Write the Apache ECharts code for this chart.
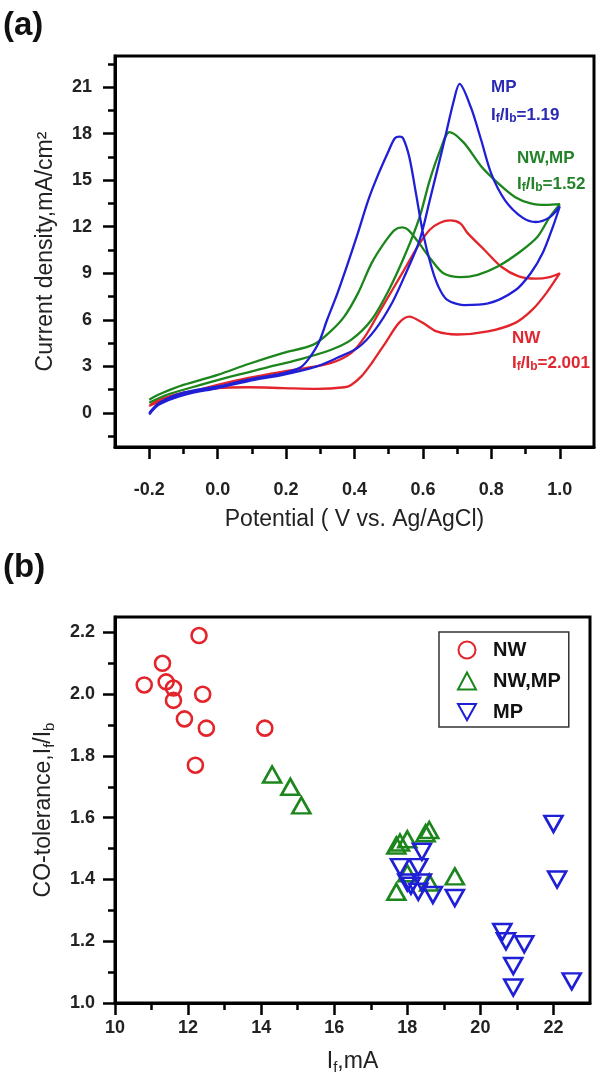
<!DOCTYPE html>
<html><head><meta charset="utf-8">
<script src="https://cdn.jsdelivr.net/npm/echarts@6/dist/echarts.min.js"></script>
<style>html,body{margin:0;padding:0;background:#fff}#c{width:600px;height:1080px}</style>
</head><body><div id="c"></div><script>
// ---------- Panel (a): cyclic voltammograms ----------
const nwX = [-0.2,-0.17,-0.1,0.0,0.09,0.19,0.26,0.33,0.39,0.43,0.47,0.51,0.55,0.59,0.62,0.65,0.68,0.71,0.73,0.78,0.83,0.88,0.93,0.97,1.0,
             0.96,0.92,0.87,0.79,0.70,0.64,0.60,0.56,0.53,0.49,0.45,0.42,0.39,0.37,0.29,0.19,0.09,0.0,-0.1,-0.17,-0.2];
const nwY = [0.45,0.7,1.2,1.8,2.25,2.65,2.9,3.2,3.85,4.9,6.4,7.9,9.4,10.9,11.8,12.25,12.4,12.2,11.6,10.5,9.4,8.8,8.65,8.75,9.0,
             7.7,6.65,5.8,5.25,5.05,5.25,5.8,6.2,5.8,4.5,3.2,2.35,1.8,1.65,1.55,1.6,1.65,1.6,1.3,0.85,0.45];
const mpX = [-0.2,-0.17,-0.1,0.0,0.09,0.19,0.29,0.35,0.41,0.46,0.51,0.55,0.59,0.62,0.66,0.69,0.707,0.74,0.77,0.80,0.84,0.89,0.93,0.97,1.0,
             0.98,0.95,0.915,0.87,0.79,0.72,0.67,0.645,0.625,0.60,0.58,0.56,0.542,0.532,0.518,0.50,0.47,0.44,0.41,0.38,0.35,0.32,0.295,0.265,0.24,0.19,0.09,0.0,-0.1,-0.17,-0.2];
const mpY = [-0.1,0.55,1.15,1.6,2.05,2.45,3.0,3.55,4.2,5.35,7.1,9.0,11.1,13.7,17.3,20.1,21.2,19.7,17.6,15.4,13.7,12.6,12.3,12.6,13.3,
             12.0,10.3,9.0,7.9,7.05,6.95,7.3,8.15,9.4,11.6,14.1,16.5,17.7,17.8,17.7,16.9,15.4,13.7,11.6,9.6,7.7,6.0,4.5,3.45,2.9,2.55,2.15,1.7,1.3,0.65,0.0];
const nwmpX = [-0.2,-0.15,-0.05,0.04,0.14,0.24,0.33,0.39,0.45,0.50,0.55,0.59,0.62,0.65,0.678,0.72,0.77,0.82,0.87,0.915,0.96,1.0,
               0.97,0.935,0.885,0.82,0.76,0.71,0.66,0.625,0.585,0.557,0.539,0.518,0.49,0.45,0.41,0.37,0.33,0.28,0.19,0.09,0.0,-0.1,-0.17,-0.2];
const nwmpY = [0.65,1.15,1.8,2.35,2.9,3.45,4.05,4.7,6.0,7.9,10.3,12.6,15.0,16.9,18.1,17.4,15.9,14.8,13.9,13.5,13.4,13.45,
               12.6,11.35,10.4,9.45,8.9,8.75,9.0,9.85,11.05,11.8,11.95,11.8,11.05,9.65,7.7,6.2,5.25,4.4,3.85,3.15,2.45,1.8,1.2,0.85];
const potMajor = [-0.2,0.0,0.2,0.4,0.6,0.8,1.0];
const potMinor = [-0.1,0.1,0.3,0.5,0.7,0.9];
const curMajor = [0,3,6,9,12,15,18,21];
const curMinor = [-1.5,1.5,4.5,7.5,10.5,13.5,16.5,19.5,22.5];

// ---------- Panel (b): CO tolerance ----------
const sNwX = [10.8,11.3,11.4,11.6,11.6,11.9,12.3,12.4,12.5,12.2,14.1];
const sNwY = [2.03,2.10,2.04,2.02,1.98,1.92,2.19,2.00,1.89,1.77,1.89];
const sNwmpX = [14.3,14.8,15.1,17.7,17.8,18.0,18.5,18.6,18.0,17.7,18.6,19.3];
const sNwmpY = [1.74,1.70,1.64,1.51,1.52,1.53,1.55,1.56,1.42,1.36,1.39,1.41];
const sMpX = [17.8,18.4,18.3,18.0,18.1,18.4,18.3,18.7,19.3,20.6,20.7,21.2,20.9,20.9,22.0,22.1,22.5];
const sMpY = [1.44,1.49,1.44,1.39,1.38,1.39,1.36,1.35,1.34,1.23,1.20,1.19,1.12,1.05,1.58,1.40,1.07];
const ifMajor = [10,12,14,16,18,20,22];
const ifMinor = [11,13,15,17,19,21];
const tolMajor = [1.0,1.2,1.4,1.6,1.8,2.0,2.2];
const tolMinor = [1.1,1.3,1.5,1.7,1.9,2.1];

const FONT = '"Liberation Sans", Arial, sans-serif';
const zip = (xs, ys) => xs.map((x, i) => [x, ys[i]]);
const RED = '#e3242b', GREEN = '#1c861c', BLUE = '#1f1fd6';

function mainAxis(grid, pos, min, max, major, fmt, margin, name, nameGap) {
  return {
    type: 'value', gridIndex: grid, position: pos, min: min, max: max,
    axisLine: { show: true, onZero: false, lineStyle: { color: '#000', width: 3 } },
    axisTick: { show: true, customValues: major, length: 12, lineStyle: { color: '#000', width: 2.5 } },
    axisLabel: { customValues: major, formatter: fmt, fontSize: 18, fontWeight: 'bold', color: '#222', fontFamily: FONT, margin: margin },
    splitLine: { show: false },
    name: name, nameLocation: 'middle', nameGap: nameGap,
    nameTextStyle: {
      fontSize: 23, color: '#222', fontFamily: FONT,
      rich: {
        m: { fontSize: 23, color: '#222', fontFamily: FONT, verticalAlign: 'middle', lineHeight: 26 },
        s: { fontSize: 15, color: '#222', fontFamily: FONT, verticalAlign: 'bottom', lineHeight: 15, padding: [17, 0, 0, 0] }
      }
    }
  };
}
function minorAxis(grid, pos, min, max, minor) {
  return {
    type: 'value', gridIndex: grid, position: pos, offset: 0, min: min, max: max,
    axisLine: { show: false, onZero: false },
    axisTick: { show: true, customValues: minor, length: 7, lineStyle: { color: '#000', width: 2.5 } },
    axisLabel: { show: false },
    splitLine: { show: false }
  };
}

const chart = echarts.init(document.getElementById('c'), null, { renderer: 'canvas' });
const sym = { color: 'rgba(0,0,0,0)', borderWidth: 2.6, opacity: 1 };

const annRich = (c) => ({
  m: { fontSize: 17, fontWeight: 'bold', fill: c, fontFamily: FONT, verticalAlign: 'middle', lineHeight: 19 },
  s: { fontSize: 12, fontWeight: 'bold', fill: c, fontFamily: FONT, verticalAlign: 'bottom', lineHeight: 12, padding: [13, 0, 0, 0] }
});
function ann(x, y, text, c, rich) {
  return { type: 'text', x: x, y: y, silent: true,
    style: rich ? { text: text, rich: annRich(c), fill: c, verticalAlign: 'middle' }
                : { text: text, fill: c, font: 'bold 17px ' + FONT, verticalAlign: 'middle' } };
}

chart.setOption({
  animation: false,
  backgroundColor: '#fff',
  grid: [
    { left: 115, top: 56, width: 479, height: 391, show: true, borderColor: '#000', borderWidth: 3, backgroundColor: 'transparent' },
    { left: 115, top: 617, width: 475, height: 386, show: true, borderColor: '#000', borderWidth: 3, backgroundColor: 'transparent' }
  ],
  xAxis: [
    mainAxis(0, 'bottom', -0.3, 1.1, potMajor, v => v.toFixed(1), 34, 'Potential ( V vs. Ag/AgCl)', 61),
    minorAxis(0, 'bottom', -0.3, 1.1, potMinor),
    mainAxis(1, 'bottom', 10, 23, ifMajor, v => String(v), 16, '{m|I}{s|f}{m|,mA}', 46),
    minorAxis(1, 'bottom', 10, 23, ifMinor)
  ],
  yAxis: [
    mainAxis(0, 'left', -2.2, 23, curMajor, v => String(v), 23, 'Current density,mA/cm²', 58),
    minorAxis(0, 'left', -2.2, 23, curMinor),
    mainAxis(1, 'left', 1.0, 2.25, tolMajor, v => v.toFixed(1), 20, '{m|CO-tolerance,I}{s|f}{m|/I}{s|b}', 58),
    minorAxis(1, 'left', 1.0, 2.25, tolMinor)
  ],
  legend: {
    show: true, orient: 'vertical', left: 439, top: 632,
    data: ['NW', 'NW,MP', 'MP'],
    itemWidth: 18, itemHeight: 17, itemGap: 11,
    padding: [8, 8, 5, 18],
    borderColor: '#333', borderWidth: 1.5, backgroundColor: '#fff',
    textStyle: { fontSize: 20, fontWeight: 'bold', color: '#111', fontFamily: FONT, padding: [0, 0, 0, 12] }
  },
  series: [
    { type: 'line', name: 'cvNW', xAxisIndex: 0, yAxisIndex: 0, data: zip(nwX, nwY), showSymbol: false, smooth: 0.3,
      lineStyle: { color: RED, width: 2.3 }, itemStyle: { color: RED } },
    { type: 'line', name: 'cvNWMP', xAxisIndex: 0, yAxisIndex: 0, data: zip(nwmpX, nwmpY), showSymbol: false, smooth: 0.3,
      lineStyle: { color: GREEN, width: 2.3 }, itemStyle: { color: GREEN } },
    { type: 'line', name: 'cvMP', xAxisIndex: 0, yAxisIndex: 0, data: zip(mpX, mpY), showSymbol: false, smooth: 0.3,
      lineStyle: { color: BLUE, width: 2.3 }, itemStyle: { color: BLUE } },
    { type: 'scatter', name: 'NW', xAxisIndex: 2, yAxisIndex: 2, data: zip(sNwX, sNwY), symbol: 'circle', symbolSize: 15,
      itemStyle: Object.assign({ borderColor: RED }, sym) },
    { type: 'scatter', name: 'NW,MP', xAxisIndex: 2, yAxisIndex: 2, data: zip(sNwmpX, sNwmpY), symbol: 'triangle', symbolSize: [18, 16],
      itemStyle: Object.assign({ borderColor: GREEN }, sym) },
    { type: 'scatter', name: 'MP', xAxisIndex: 2, yAxisIndex: 2, data: zip(sMpX, sMpY), symbol: 'path://M0,0L10,0L5,9Z', symbolSize: [18, 16],
      itemStyle: Object.assign({ borderColor: BLUE }, sym) }
  ],
  graphic: [
    { type: 'text', x: 3, y: 26, style: { text: '(a)', font: 'bold 33px ' + FONT, fill: '#111', verticalAlign: 'middle' } },
    { type: 'text', x: 3, y: 568, style: { text: '(b)', font: 'bold 33px ' + FONT, fill: '#111', verticalAlign: 'middle' } },
    ann(491, 87, 'MP', '#2a2ab4', false),
    ann(491, 115, '{m|I}{s|f}{m|/I}{s|b}{m|=1.19}', '#2a2ab4', true),
    ann(517, 158, 'NW,MP', '#23822a', false),
    ann(517, 184, '{m|I}{s|f}{m|/I}{s|b}{m|=1.52}', '#23822a', true),
    ann(512, 338, 'NW', '#e0262e', false),
    ann(512, 363, '{m|I}{s|f}{m|/I}{s|b}{m|=2.001}', '#e0262e', true)
  ]
});
</script></body></html>
